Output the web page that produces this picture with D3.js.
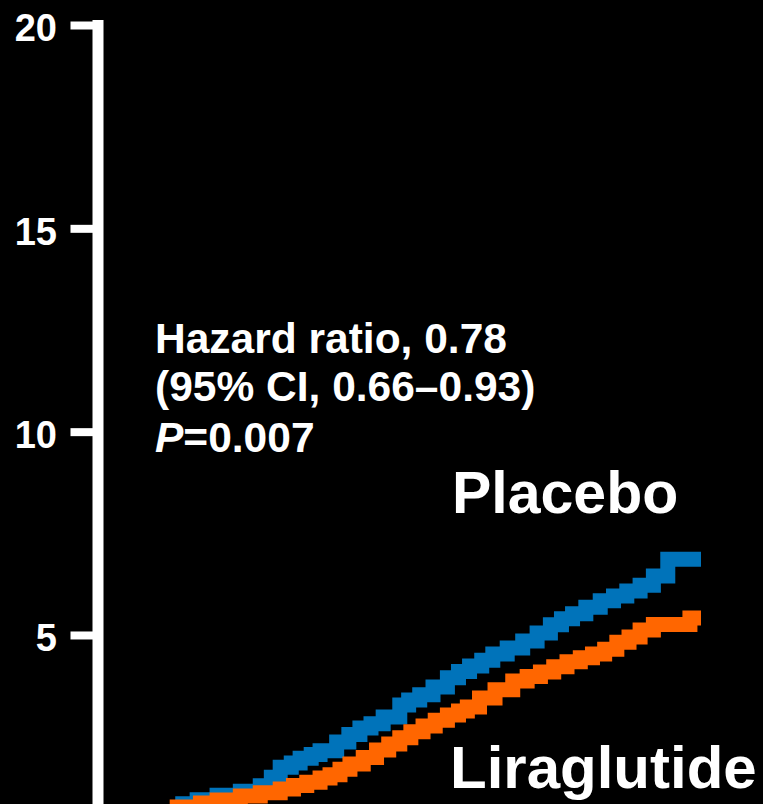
<!DOCTYPE html>
<html>
<head>
<meta charset="utf-8">
<script src="https://cdn.jsdelivr.net/npm/d3@7"></script>
<style>
  html, body { margin: 0; padding: 0; background: #000; }
  svg { display: block; }
  text { font-family: "Liberation Sans", Arial, sans-serif; font-weight: bold; fill: #fff; }
</style>
</head>
<body>
<div id="chart-area"></div>
<script>
// cumulative incidence (%); months since randomisation
const placeboMonths = [0, 1.5, 3, 4.5, 6, 7.2, 8.5, 10.3, 12.4, 14.2, 15.2, 16, 17, 17.8, 18.8, 19.6, 21.1, 22.2, 23.2, 24.2, 25.3, 26.8, 27.6, 28.6, 29.8, 31.1, 32.1, 33.1, 34.2, 35.2, 36.5, 37.9, 39.2, 40.4, 41.4, 42.4, 43.6, 44.9, 46.1, 47.3, 48.5, 49.7, 51, 54]
const placeboValues = [0, 0.1, 0.25, 0.4, 0.6, 0.85, 0.95, 1.06, 1.16, 1.29, 1.5, 1.75, 1.85, 1.97, 2.06, 2.15, 2.37, 2.55, 2.71, 2.82, 2.98, 3.28, 3.4, 3.53, 3.72, 3.95, 4.1, 4.24, 4.38, 4.53, 4.68, 4.85, 5.05, 5.25, 5.4, 5.52, 5.68, 5.84, 5.96, 6.08, 6.22, 6.45, 6.86, 6.86]

const liraMonths = [0, 1.5, 3, 4.5, 5.8, 6.7, 8.8, 10.3, 12.4, 14.2, 16, 17.2, 18.4, 19.6, 20.5, 21.4, 22.3, 23.5, 24.7, 25.8, 26.8, 27.8, 28.9, 30, 31.1, 32.1, 32.9, 34, 35.4, 37, 38.3, 39.5, 40.7, 41.9, 43.1, 44.2, 45.3, 46.4, 47.5, 48.5, 49.7, 53, 54]
const liraValues = [0, 0.08, 0.2, 0.35, 0.55, 0.77, 0.87, 0.94, 1.04, 1.12, 1.21, 1.3, 1.38, 1.48, 1.56, 1.7, 1.83, 1.99, 2.17, 2.32, 2.47, 2.62, 2.76, 2.9, 3.03, 3.13, 3.23, 3.45, 3.65, 3.87, 3.98, 4.09, 4.22, 4.34, 4.44, 4.53, 4.65, 4.82, 4.95, 5.12, 5.26, 5.42, 5.42]

const yTicks = [5, 10, 15, 20]
const statLines = ["Hazard ratio, 0.78", "(95% CI, 0.66\u20130.93)", "=0.007"]

const WIDTH = 763
const HEIGHT = 804

const svg = d3.select("#chart-area").append("svg")
  .attr("width", WIDTH)
  .attr("height", HEIGHT)

svg.append("rect")
  .attr("width", WIDTH)
  .attr("height", HEIGHT)
  .attr("fill", "#000")

const x = d3.scaleLinear()
  .domain([0, 54])
  .range([103, 701])

const y = d3.scaleLinear()
  .domain([0, 20])
  .range([838.3, 25])

// y axis
const yAxisCall = d3.axisLeft(y)
  .tickValues(yTicks)
  .tickSize(27)
  .tickSizeOuter(0)
  .tickPadding(13.5)
const yAxis = svg.append("g")
  .attr("class", "y axis")
  .attr("transform", "translate(97.5,0)")
  .call(yAxisCall)
yAxis.select(".domain")
  .attr("stroke", "#fff")
  .attr("stroke-width", 11)
  .attr("stroke-linecap", "square")
yAxis.selectAll(".tick line")
  .attr("stroke", "#fff")
  .attr("stroke-width", 8)
yAxis.selectAll(".tick text")
  .attr("fill", "#fff")
  .attr("font-size", 38)
  .attr("font-family", "Liberation Sans, Arial, sans-serif")
  .attr("font-weight", "bold")
  .attr("dy", "0.42em")

// curves
const line = d3.line()
  .x(d => x(d[0]))
  .y(d => y(d[1]))
  .curve(d3.curveStepAfter)

const series = [
  {name: "Placebo", pts: d3.zip(placeboMonths, placeboValues), color: "#0073BA"},
  {name: "Liraglutide", pts: d3.zip(liraMonths, liraValues), color: "#FF6600"}
]

svg.selectAll("path.curve")
  .data(series)
  .enter().append("path")
    .attr("class", "curve")
    .attr("d", d => line(d.pts))
    .attr("fill", "none")
    .attr("stroke", d => d.color)
    .attr("stroke-width", 15)
    .attr("stroke-linejoin", "miter")

// stats
const stats = svg.append("text")
  .attr("font-size", 42.5)
stats.selectAll("tspan")
  .data(statLines)
  .enter().append("tspan")
    .attr("x", (d, i) => i == 2 ? null : 155)
    .attr("y", (d, i) => [353, 401, 452][i])
    .text(d => d)
stats.insert("tspan", "tspan:nth-child(3)")
  .attr("x", 155)
  .attr("y", 452)
  .attr("font-style", "italic")
  .text("P")

svg.append("text")
  .attr("x", 452)
  .attr("y", 513)
  .attr("font-size", 59)
  .text("Placebo")

svg.append("text")
  .attr("x", 450)
  .attr("y", 788)
  .attr("font-size", 60)
  .text("Liraglutide")
</script>
</body>
</html>
